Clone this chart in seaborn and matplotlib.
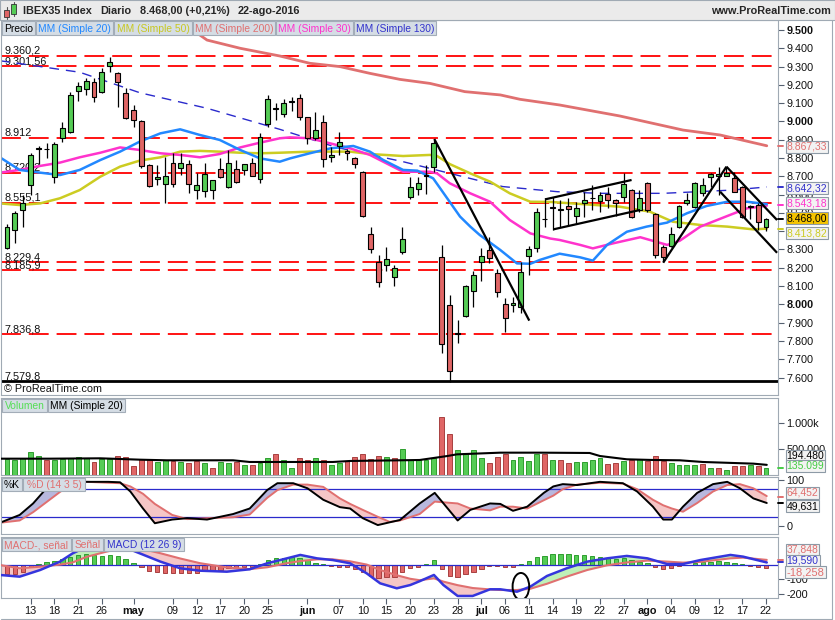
import matplotlib
matplotlib.use("Agg")
import matplotlib.pyplot as plt
from matplotlib.patches import Rectangle, Ellipse
from matplotlib.lines import Line2D
import seaborn as sns

# Daily candles, trading-day index 0 = 8-abr-2016, 96 = 22-ago-2016
opens = [8306, 8407, 8516, 8653, 8850, 8850, 8698, 8908, 8941, 9168,
         9176, 9218, 9163, 9303, 9263, 9154, 9063, 9003, 8762, 8687,
         8656, 8771, 8744, 8766, 8625, 8622, 8625, 8738, 8642, 8738,
         8733, 8771, 8685, 8985, 9070, 9041, 9105, 9126, 9023, 8908,
         8995, 8804, 8866, 8838, 8798, 8725, 8385, 8233, 8215, 8148,
         8284, 8585, 8631, 8700, 8753, 8257, 7996, 7840, 7938, 8075,
         8233, 8297, 8170, 8000, 7995, 7984, 8264, 8306, 8465, 8530,
         8515, 8538, 8483, 8552, 8580, 8565, 8602, 8571, 8589, 8625,
         8516, 8662, 8494, 8315, 8319, 8425, 8556, 8534, 8607, 8694,
         8703, 8703, 8689, 8643, 8540, 8543, 8425]
highs = [8440, 8510, 8598, 8825, 8866, 8884, 8890, 8999, 9160, 9218,
         9236, 9240, 9290, 9352, 9268, 9181, 9090, 9010, 8770, 8762,
         8808, 8826, 8826, 8789, 8716, 8771, 8680, 8798, 8844, 8789,
         8768, 8798, 8935, 9145, 9099, 9121, 9132, 9150, 9025, 9054,
         9035, 8862, 8940, 8850, 8808, 8728, 8425, 8270, 8312, 8215,
         8421, 8698, 8698, 8762, 8904, 8325, 8051, 7915, 8106, 8184,
         8306, 8370, 8192, 8033, 8042, 8233, 8319, 8529, 8580, 8588,
         8570, 8580, 8561, 8616, 8653, 8616, 8643, 8575, 8716, 8630,
         8625, 8671, 8497, 8324, 8425, 8543, 8607, 8671, 8689, 8720,
         8749, 8749, 8725, 8645, 8543, 8552, 8470]
lows = [8300, 8337, 8421, 8598, 8768, 8798, 8665, 8890, 8935, 9114,
        9145, 9108, 9154, 9268, 9081, 9015, 8972, 8744, 8643, 8653,
        8552, 8644, 8707, 8607, 8574, 8589, 8574, 8693, 8634, 8662,
        8707, 8700, 8665, 8972, 9008, 9023, 9059, 9008, 8877, 8899,
        8749, 8780, 8817, 8790, 8744, 8479, 8283, 8097, 8184, 8102,
        8274, 8574, 8598, 8603, 8725, 7736, 7577, 7790, 7929, 7987,
        8130, 8228, 8042, 7851, 7960, 7955, 8160, 8288, 8425, 8407,
        8425, 8434, 8443, 8479, 8516, 8507, 8525, 8483, 8561, 8470,
        8507, 8507, 8252, 8233, 8315, 8416, 8543, 8525, 8592, 8643,
        8600, 8700, 8612, 8470, 8465, 8407, 8403]
closes = [8421, 8498, 8552, 8817, 8855, 8848, 8877, 8962, 9145, 9194,
          9223, 9132, 9272, 9323, 9218, 9017, 9010, 8757, 8649, 8696,
          8700, 8658, 8771, 8656, 8652, 8713, 8678, 8695, 8771, 8667,
          8766, 8704, 8913, 9121, 9075, 9099, 9110, 9026, 8908, 8953,
          8795, 8817, 8886, 8830, 8767, 8485, 8301, 8120, 8246, 8197,
          8356, 8644, 8662, 8705, 8880, 7781, 7637, 7842, 8100, 8160,
          8264, 8252, 8066, 7924, 8006, 8179, 8301, 8503, 8468, 8525,
          8521, 8520, 8525, 8571, 8583, 8598, 8571, 8552, 8658, 8476,
          8580, 8516, 8270, 8261, 8383, 8538, 8571, 8665, 8653, 8713,
          8710, 8718, 8616, 8476, 8530, 8450, 8468]

# volume in thousands
volume = [312, 287, 325, 440, 357, 287, 281, 300, 319, 344,
          319, 249, 300, 312, 363, 344, 172, 312, 312, 249,
          287, 268, 249, 229, 268, 229, 127, 249, 229, 249,
          191, 191, 229, 319, 408, 281, 127, 319, 281, 319,
          281, 191, 236, 268, 344, 395, 300, 363, 344, 331,
          491, 287, 287, 287, 325, 1109, 777, 472, 421, 472,
          319, 229, 344, 408, 287, 344, 268, 408, 408, 287,
          281, 229, 255, 249, 287, 319, 204, 229, 268, 287,
          300, 268, 357, 268, 229, 191, 191, 191, 204, 140,
          127, 89, 166, 166, 191, 172, 135]

# MACD histogram (MACD - signal)
macd_hist = [-61, -61, -45, -14, 7, 21, 33, 47, 61, 73,
             77, 73, 66, 73, 66, 42, 14, -14, -38, -45,
             -56, -56, -56, -56, -56, -38, -38, -33, -21, -21,
             -14, -9, 9, 38, 49, 49, 56, 49, 38, 19,
             9, -7, -9, -14, -28, -45, -75, -92, -84, -84,
             -45, -21, -9, 9, 38, -28, -75, -80, -61, -45,
             -23, -2, -2, -14, -9, 7, 28, 56, 66, 80,
             80, 80, 73, 73, 66, 56, 49, 42, 49, 38,
             26, 19, -9, -23, -19, -7, 2, 19, 26, 26,
             33, 26, 19, 9, -2, -14, -18]

# moving averages
sma20_idx = [-0.9, 1.6, 4.2, 6.7, 9.2, 11.8, 14.3, 16.8, 19.4, 21.9, 24.4, 26.9, 29.5, 32.0, 34.5,
             35.8, 38.3, 40.9, 43.8, 45.9, 47.6, 50.1, 51.9, 53.9, 56.0, 57.3, 58.6, 59.8, 62.4,
             64.5, 66.2, 67.4, 69.9, 72.5, 74.1, 75.9, 78.4, 80.9, 83.5, 86.0, 88.5, 91.1, 93.6, 96.1]
sma20 = [8804, 8735, 8720, 8707, 8735, 8789, 8835, 8890, 8935, 8957, 8926, 8899, 8844, 8798, 8780,
         8798, 8826, 8853, 8866, 8835, 8789, 8735, 8731, 8689, 8560, 8480, 8425, 8379, 8297,
         8224, 8222, 8243, 8277, 8257, 8239, 8325, 8397, 8425, 8447, 8498, 8538, 8561, 8561, 8548]
sma30_idx = [-0.9, 1.6, 4.2, 6.7, 9.2, 11.8, 14.3, 16.8, 19.4, 21.9, 24.4, 26.9, 29.5, 32.0,
             34.5, 35.8, 38.3, 40.9, 43.4, 45.9, 48.4, 50.1, 53.5, 54.4, 56.0, 58.6, 61.1,
             63.6, 66.2, 68.7, 69.9, 72.5, 74.1, 76.7, 80.1, 83.5, 85.1, 87.7, 91.1, 93.6, 95.2, 96.1]
sma30 = [8720, 8735, 8757, 8775, 8804, 8829, 8858, 8844, 8826, 8817, 8804, 8822, 8858, 8884,
         8908, 8913, 8908, 8880, 8853, 8817, 8762, 8725, 8725, 8716, 8662, 8607, 8561,
         8461, 8388, 8360, 8352, 8325, 8306, 8334, 8367, 8325, 8348, 8425, 8483, 8525, 8534, 8540]
sma50_idx = [-0.9, 1.6, 4.2, 6.7, 9.2, 11.8, 14.3, 16.8, 19.4, 21.9, 24.4, 26.9, 29.5, 32.0,
             34.5, 38.3, 43.4, 45.9, 50.1, 53.5, 54.4, 56.0, 58.6, 61.1, 63.6, 66.2, 68.7,
             72.5, 77.5, 81.3, 84.2, 87.7, 91.1, 94.4, 96.1]
sma50 = [8552, 8543, 8552, 8580, 8625, 8698, 8753, 8786, 8804, 8835, 8839, 8835, 8829, 8826,
         8829, 8835, 8835, 8822, 8811, 8817, 8811, 8767, 8716, 8671, 8607, 8561, 8560,
         8549, 8534, 8507, 8452, 8434, 8425, 8410, 8414]
sma200_idx = [21.5, 25.3, 29.5, 34.5, 38.3, 42.1, 45.9, 49.7, 53.5, 57.9, 62.4, 64.9, 69.9,
              77.5, 85.5, 90.2, 96.1]
sma200 = [9560, 9445, 9400, 9358, 9318, 9300, 9263, 9230, 9208, 9163, 9145, 9121, 9090,
          9030, 8953, 8926, 8867]
sma130_idx = [-0.9, 9.2, 16.8, 25.3, 34.5, 41.7, 50.1, 57.7, 62.7, 69.6, 75.0, 83.0, 91.8, 96.1]
sma130 = [9332, 9269, 9157, 9072, 8957, 8858, 8780, 8698, 8644, 8616, 8607, 8607, 8625, 8642]

vol_sma_idx = [-0.9, 5.4, 11.8, 16.8, 20.2, 28.6, 30.7, 41.2, 43.4, 49.7, 52.2, 55.7, 56.9,
               62.4, 67.4, 73.7, 75.0, 78.4, 81.7, 85.1, 88.0, 94.4, 96.1]
vol_sma = [312, 312, 319, 293, 281, 281, 249, 249, 268, 281, 287, 363, 395,
           427, 427, 421, 363, 300, 287, 281, 249, 217, 194]

# stochastic %K / %D
stoch_idx = [-0.9, 1.6, 3.3, 5.0, 6.7, 8.1, 10.1, 12.8, 14.3, 15.6, 17.2, 18.7, 20.9, 22.8,
             25.3, 28.6, 30.7, 32.9, 34.2, 36.2, 38.0, 40.0, 42.1, 43.4, 45.0, 46.9, 48.4,
             49.7, 52.2, 54.1, 57.0, 58.6, 61.1, 62.4, 64.0, 65.8, 67.9, 69.1, 70.3, 72.1,
             75.0, 77.9, 79.7, 81.7, 83.0, 84.1, 85.5, 87.3, 89.3, 91.1, 92.7, 94.4, 96.1]
stoch_k = [7, 24, 49, 82, 96, 97, 96, 96, 95, 75, 38, 6, 14, 17, 14, 26, 38, 78, 93, 93,
           82, 57, 41, 38, 17, 2, 8, 13, 49, 72, 12, 35, 49, 48, 33, 42, 72, 86, 91, 89,
           96, 93, 75, 42, 14, 14, 42, 72, 91, 96, 82, 60, 50]
stoch_d = [7, 12, 30, 52, 74, 90, 96, 94, 93, 86, 70, 48, 24, 15, 17, 19, 25, 61, 78, 90,
           90, 85, 60, 48, 35, 20, 9, 12, 26, 53, 49, 38, 34, 42, 42, 38, 56, 66, 80, 90,
           94, 92, 80, 57, 45, 38, 31, 50, 75, 89, 91, 82, 65]

# MACD / signal lines
macd_idx = [-0.9, 1.6, 4.2, 6.7, 8.3, 10.1, 12.5, 14.3, 16.8, 19.4, 21.9, 24.4, 27.8, 30.7,
            32.9, 35.4, 37.1, 39.2, 41.2, 43.4, 45.5, 47.2, 49.3, 51.0, 52.2, 54.0, 55.2,
            57.0, 58.9, 61.1, 62.4, 64.5, 66.2, 68.3, 70.8, 73.4, 75.9, 78.4, 81.0, 83.5,
            85.5, 87.7, 91.5, 93.1, 96.1]
macd_line = [-68, -80, -33, 26, 84, 131, 155, 140, 84, 26, -21, -38, -45, -28, 14, 49, 73,
             49, 37, 14, -57, -127, -162, -139, -112, -68, -139, -216, -216, -169, -169,
             -186, -150, -75, -21, 26, 49, 66, 49, 9, 9, 37, 73, 61, 20]
signal_line = [2, -21, -10, 5, 20, 60, 95, 118, 119, 85, 48, 15, -15, -27, -14, 15, 30, 42,
               42, 28, 5, -33, -70, -95, -105, -92, -115, -140, -160, -170, -174, -174,
               -165, -130, -80, -33, 0, 20, 33, 26, 19, 24, 49, 54, 38]

# horizontal support / resistance levels
sr_levels = [9360.2, 9301.56, 8912, 8720.2, 8555.1, 8229.4, 8185.9, 7836.8]
sr_labels = ["9.360,2", "9.301,56", "8.912", "8.720,2", "8.555,1", "8.229,4", "8.185,9", "7.836,8"]
floor_level = 7579.8

# hand drawn trend lines: (index, price) pairs
trend_lines = [((54.05, 8904), (66.06, 7911)),
               ((68.05, 8574), (79.0, 8680)),
               ((69.1, 8410), (80.07, 8516)),
               ((83.0, 8228), (91.0, 8753)),
               ((91.0, 8753), (97.4, 8461)),
               ((90.2, 8616), (97.4, 8282))]
macd_circle = (65.0, -149)

tick_idx = [3, 6, 9, 12, 16, 21, 24, 27, 30, 33, 38, 42, 45, 48, 51, 54, 57, 60, 63, 66,
            69, 72, 75, 78, 81, 84, 87, 90, 93, 96]
tick_lbl = ["13", "18", "21", "26", "may", "09", "12", "17", "20", "25", "jun", "07", "10",
            "15", "20", "23", "28", "jul", "06", "11", "14", "19", "22", "27", "ago", "04",
            "09", "12", "17", "22"]

GREEN = "#55cc55"
RED = "#e06666"
SALMON = "#e07070"

sns.set_theme(style="white")
plt.rcParams['font.family'] = ['Liberation Sans', 'DejaVu Sans']

W, H = 835, 620
fig = plt.figure(figsize=(W / 100, H / 100), dpi=100)
fig.patch.set_facecolor("white")


def fx(x):
    return x / W


def fy(y):
    return 1 - y / H


def panel(y0, y1, ylim):
    ax = fig.add_axes([fx(1), fy(y1), fx(778) - fx(1), (y1 - y0) / H])
    ax.set_xlim(-0.76, 97.52)
    ax.set_ylim(*ylim)
    ax.set_facecolor("white")
    for s in ax.spines.values():
        s.set_color("#a0aab4")
        s.set_linewidth(0.8)
    ax.yaxis.tick_right()
    ax.tick_params(axis="y", direction="out", length=4, width=0.8, color="#556070",
                   pad=2, labelsize=7.8, labelcolor="#111111", right=True, left=False)
    ax.tick_params(axis="x", bottom=False, labelbottom=False)
    return ax


def fmt(v):
    return f"{v:,}".replace(",", ".")


def value_box(ax, y, text, color, face="#f3f3f3", size=7.5, mark=None):
    tr = ax.get_yaxis_transform()
    if mark is not None:
        ax.plot([1.0, 1.006], [mark, mark], transform=tr, color=color, lw=1.4,
                clip_on=False, zorder=9)
    ax.text(1.011, y, text, transform=tr, color=color, fontsize=size,
            ha="left", va="center", clip_on=False, zorder=10,
            bbox=dict(boxstyle="square,pad=0.1", facecolor=face, edgecolor="#8d9aa6",
                      linewidth=0.8))


def tag(x0, x1, y0, y1, text, color):
    fig.add_artist(Rectangle((fx(x0), fy(y1)), (x1 - x0) / W, (y1 - y0) / H,
                             transform=fig.transFigure, facecolor="#d5dde5",
                             edgecolor="#a3adb8", linewidth=0.8, zorder=5))
    fig.text(fx((x0 + x1) / 2), fy((y0 + y1) / 2 + 0.5), text, color=color, fontsize=7.4,
             ha="center", va="center", zorder=6)


### Price panel
ax_p = panel(20, 395, (7504.4, 9554.7))
idx = list(range(len(closes)))

for lvl, lbl in zip(sr_levels, sr_labels):
    ax_p.axhline(lvl, color="#ff0000", lw=1.3, linestyle=(0, (11, 4.4)), zorder=1)
    ax_p.text(0.004, lvl, lbl, transform=ax_p.get_yaxis_transform(), fontsize=7.8,
              va="bottom", ha="left", color="#111111", zorder=2)
ax_p.axhline(floor_level, color="black", lw=2.0, zorder=2)
ax_p.text(0.004, floor_level, "7.579,8", transform=ax_p.get_yaxis_transform(), fontsize=7.8,
          va="bottom", ha="left", color="#111111")
ax_p.text(0.004, 7537, "\u00a9 ProRealTime.com", transform=ax_p.get_yaxis_transform(),
          fontsize=7.8, va="center", ha="left", color="#111111")

sns.lineplot(x=sma200_idx, y=sma200, ax=ax_p, color="#e07070", lw=2.0, estimator=None,
             sort=False, legend=False)
ax_p.plot(sma130_idx, sma130, color="#2a2acc", lw=1.0, linestyle=(0, (7, 5)))
sns.lineplot(x=sma50_idx, y=sma50, ax=ax_p, color="#cccc22", lw=1.8, estimator=None,
             sort=False, legend=False)
sns.lineplot(x=sma30_idx, y=sma30, ax=ax_p, color="#ff33cc", lw=1.8, estimator=None,
             sort=False, legend=False)
sns.lineplot(x=sma20_idx, y=sma20, ax=ax_p, color="#2288ff", lw=1.8, estimator=None,
             sort=False, legend=False)

ax_p.vlines(idx, lows, highs, color="black", lw=0.9, zorder=4)
body_lo = [min(o, c) for o, c in zip(opens, closes)]
body_h = [max(abs(c - o), 3) for o, c in zip(opens, closes)]
body_col = [GREEN if c >= o else RED for o, c in zip(opens, closes)]
ax_p.bar(idx, body_h, bottom=body_lo, width=0.62, color=body_col, edgecolor="black",
         linewidth=0.8, zorder=5)

for (x0, y0), (x1, y1) in trend_lines:
    ax_p.plot([x0, x1], [y0, y1], color="black", lw=1.6, zorder=6, solid_capstyle="butt")

ax_p.set_yticks(list(range(7600, 9501, 100)))
ax_p.set_yticklabels([fmt(v) for v in range(7600, 9501, 100)])
for t in ax_p.get_yticklabels():
    if t.get_text() in ("9.500", "9.000", "8.000"):
        t.set_fontweight("bold")

value_box(ax_p, 8861, "8.867,33", "#e07070", mark=8867)
value_box(ax_p, 8636, "8.642,32", "#3333cc", mark=8642)
value_box(ax_p, 8552, "8.543,18", "#ff33cc", mark=8543)
value_box(ax_p, 8470, "8.468,00", "black", face="#f5c400", mark=8468)
value_box(ax_p, 8388, "8.413,82", "#cccc22", mark=8414)

### Volume panel
ax_v = panel(398, 475, (0, 1472))
vol_col = [GREEN] + [GREEN if closes[i] >= closes[i - 1] else RED for i in range(1, len(closes))]
vol_edge = ["#2e9e2e" if c == GREEN else "#a84040" for c in vol_col]
ax_v.bar(idx, volume, width=0.62, color=vol_col, edgecolor=vol_edge, linewidth=0.7, zorder=3)
sns.lineplot(x=vol_sma_idx, y=vol_sma, ax=ax_v, color="black", lw=1.5, estimator=None,
             sort=False, legend=False, zorder=4)
ax_v.set_yticks([500, 1000])
ax_v.set_yticklabels(["500.000", "1.000k"])
value_box(ax_v, 360, "194.480", "black")
value_box(ax_v, 172, "135.099", "#44cc44", mark=135)

### Stochastic panel
ax_s = panel(477, 534, (-17.4, 106.5))
ax_s.fill_between(stoch_idx, stoch_k, stoch_d,
                  where=[k >= d for k, d in zip(stoch_k, stoch_d)],
                  interpolate=True, color="#b8b8de", lw=0)
ax_s.fill_between(stoch_idx, stoch_k, stoch_d,
                  where=[k < d for k, d in zip(stoch_k, stoch_d)],
                  interpolate=True, color="#f5c6c6", lw=0)
ax_s.axhline(80, color="#2a2acc", lw=0.9)
ax_s.axhline(20, color="#2a2acc", lw=0.9)
sns.lineplot(x=stoch_idx, y=stoch_d, ax=ax_s, color=SALMON, lw=1.4, estimator=None,
             sort=False, legend=False)
sns.lineplot(x=stoch_idx, y=stoch_k, ax=ax_s, color="black", lw=1.4, estimator=None,
             sort=False, legend=False)
ax_s.set_yticks([0, 100])
ax_s.set_yticklabels(["0", "100"])
value_box(ax_s, 72, "64,452", SALMON, mark=64)
value_box(ax_s, 43, "49,631", "black", mark=50)

### MACD panel
ax_m = panel(537, 598, (-230.3, 199.3))
hist_col = [GREEN if h >= 0 else RED for h in macd_hist]
hist_edge = ["#2e9e2e" if h >= 0 else "#a84040" for h in macd_hist]
ax_m.bar(idx, macd_hist, width=0.55, color=hist_col, edgecolor=hist_edge, linewidth=0.7,
         zorder=2)
ax_m.fill_between(macd_idx, macd_line, signal_line,
                  where=[m >= s for m, s in zip(macd_line, signal_line)],
                  interpolate=True, color="#bff0b8", lw=0, zorder=1)
ax_m.fill_between(macd_idx, macd_line, signal_line,
                  where=[m < s for m, s in zip(macd_line, signal_line)],
                  interpolate=True, color="#f5c6c6", lw=0, zorder=1)
ax_m.axhline(0, color="#2a2acc", lw=0.9, zorder=3)
sns.lineplot(x=macd_idx, y=signal_line, ax=ax_m, color=SALMON, lw=1.5, estimator=None,
             sort=False, legend=False, zorder=4)
sns.lineplot(x=macd_idx, y=macd_line, ax=ax_m, color="#3535dd", lw=1.8, estimator=None,
             sort=False, legend=False, zorder=5)
ax_m.add_patch(Ellipse(macd_circle, width=2.1, height=190, fill=False, edgecolor="black",
                       lw=1.4, zorder=6))
ax_m.set_yticks([-200, -100])
ax_m.set_yticklabels(["-200", "-100"])
value_box(ax_m, 110, "37,848", SALMON, mark=38)
value_box(ax_m, 32, "19,590", "#3333cc", mark=20)
value_box(ax_m, -48, "-18,258", SALMON, size=8.0)

ax_m.set_xticks(tick_idx)
ax_m.set_xticklabels(tick_lbl)
ax_m.tick_params(axis="x", bottom=True, labelbottom=True, direction="out", length=4,
                 width=0.8, color="#556070", pad=2, labelsize=7.8, labelcolor="#111111")
for t in ax_m.get_xticklabels():
    if t.get_text() in ("may", "jun", "jul", "ago"):
        t.set_fontweight("bold")

### Header and legend tags
fig.add_artist(Rectangle((0, fy(20)), 1, 20 / H, transform=fig.transFigure,
                         facecolor="#ebebeb", edgecolor="#a0aab4", linewidth=0.8, zorder=4))
# small candle icon
fig.add_artist(Line2D([fx(6.5), fx(6.5)], [fy(7), fy(19)], transform=fig.transFigure,
                      color="#555555", lw=0.8, zorder=5))
fig.add_artist(Rectangle((fx(4), fy(17)), 5 / W, 7 / H, transform=fig.transFigure,
                         facecolor=RED, edgecolor="#333333", lw=0.6, zorder=6))
fig.add_artist(Line2D([fx(13.5), fx(13.5)], [fy(2), fy(16)], transform=fig.transFigure,
                      color="#555555", lw=0.8, zorder=5))
fig.add_artist(Rectangle((fx(11), fy(14)), 5 / W, 10 / H, transform=fig.transFigure,
                         facecolor=GREEN, edgecolor="#333333", lw=0.6, zorder=6))

head_y = fy(11)
fig.text(fx(23), head_y, "IBEX35 Index", fontsize=7.8, weight="bold", va="center", zorder=6)
fig.text(fx(100), head_y, "Diario", fontsize=7.8, weight="bold", va="center", zorder=6)
fig.text(fx(140), head_y, "8.468,00 (+0,21%)", fontsize=7.8, weight="bold", va="center",
         zorder=6)
fig.text(fx(238), head_y, "22-ago-2016", fontsize=7.8, weight="bold", va="center", zorder=6)
fig.text(fx(831), head_y, "www.ProRealTime.com", fontsize=7.8, weight="bold", va="center",
         ha="right", zorder=6)

tag(2, 35, 21, 35, "Precio", "black")
tag(36, 113, 21, 35, "MM (Simple 20)", "#2288ff")
tag(114, 192, 21, 35, "MM (Simple 50)", "#c8c822")
tag(193, 275, 21, 35, "MM (Simple 200)", "#e07070")
tag(276, 353, 21, 35, "MM (Simple 30)", "#ff33cc")
tag(354, 436, 21, 35, "MM (Simple 130)", "#3333cc")

tag(2, 47, 399, 412, "Volumen", "#55dd55")
tag(48, 125, 399, 412, "MM (Simple 20)", "black")

tag(2, 22, 478, 491, "%K", "black")
tag(23, 85, 478, 491, "%D (14 3 5)", SALMON)

tag(2, 71, 538, 551, "MACD-, se\u00f1al", SALMON)
tag(72, 103, 538, 551, "Se\u00f1al", SALMON)
tag(104, 184, 538, 551, "MACD (12 26 9)", "#3333cc")

# outer frame
fig.add_artist(Line2D([fx(832), fx(832)], [fy(20), fy(619)], transform=fig.transFigure,
                      color="#a0aab4", lw=0.8))
fig.add_artist(Line2D([fx(0.5), fx(832)], [fy(619), fy(619)], transform=fig.transFigure,
                      color="#a0aab4", lw=0.8))

fig.savefig("out.png", dpi=100)
